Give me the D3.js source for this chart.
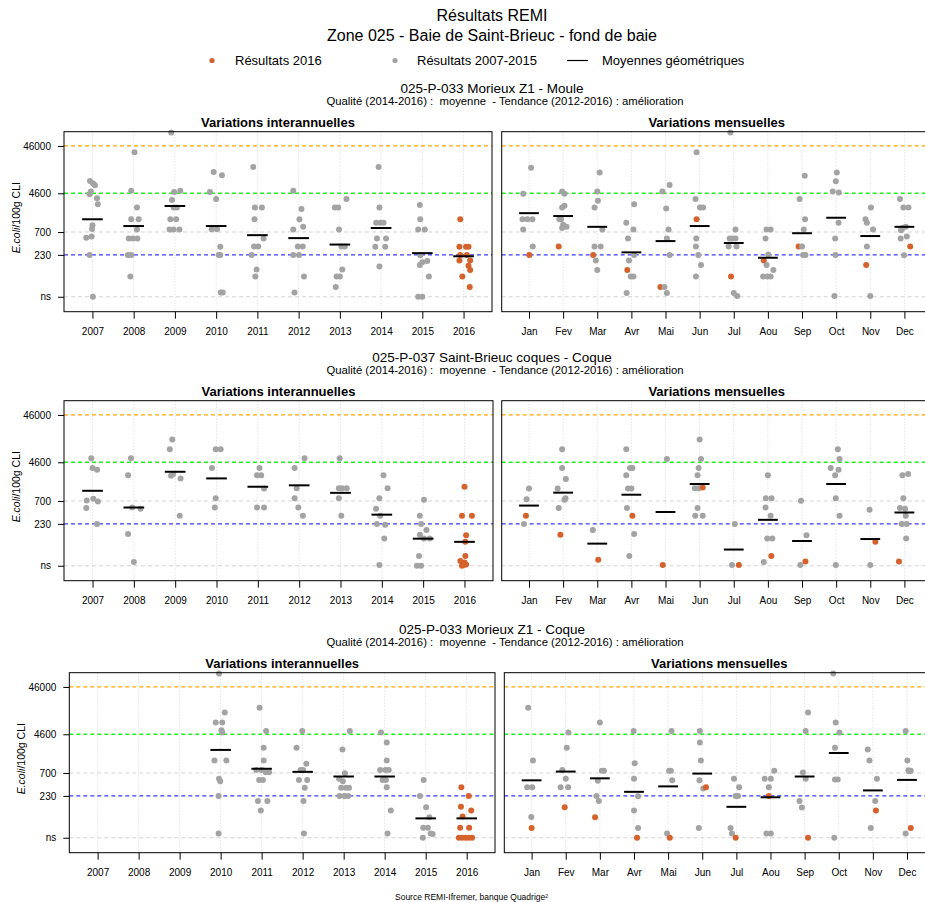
<!DOCTYPE html>
<html>
<head>
<meta charset="utf-8">
<script src="https://cdn.jsdelivr.net/npm/d3@7"></script>
<style>
  body { margin: 0; background: #fff; }
  svg { display: block; }
</style>
</head>
<body>
<script>
/* DATA */
const titres = ["Résultats REMI", "Zone 025 - Baie de Saint-Brieuc - fond de baie"];
const legendLabels = ["Résultats 2016", "Résultats 2007-2015", "Moyennes géométriques"];
const stations = ["025-P-033 Morieux Z1 - Moule", "025-P-037 Saint-Brieuc coques - Coque", "025-P-033 Morieux Z1 - Coque"];
const qualites = [
  "Qualité (2014-2016) :  moyenne  - Tendance (2012-2016) : amélioration",
  "Qualité (2014-2016) :  moyenne  - Tendance (2012-2016) : amélioration",
  "Qualité (2014-2016) :  moyenne  - Tendance (2012-2016) : amélioration"
];
const years = [2007, 2008, 2009, 2010, 2011, 2012, 2013, 2014, 2015, 2016];
const months = ["Jan", "Fev", "Mar", "Avr", "Mai", "Jun", "Jul", "Aou", "Sep", "Oct", "Nov", "Dec"];
const seuilValues = [46000, 4600, 700, 230, 30];
const seuilLabels = ["46000", "4600", "700", "230", "ns"];
const source = "Source REMI-Ifremer, banque Quadrige²";

// points: [year (jittered), E.coli]
const mouleAnnees = [
  [2006.94,8400],[2007.01,7500],[2007.06,6800],[2006.96,5000],[2006.93,4400],[2007.11,3600],[2007.13,2700],[2007.00,970],[2006.99,810],[2006.85,530],[2006.98,560],[2006.93,230],[2007.01,30],
  [2008.02,34000],[2007.94,5200],[2008.08,2300],[2007.94,1300],[2008.12,1300],[2008.08,790],[2007.88,510],[2007.98,510],[2008.09,510],[2007.86,230],[2007.94,230],[2007.92,80],
  [2008.91,88000],[2008.98,4900],[2009.13,5200],[2008.93,3300],[2008.97,2300],[2009.05,2300],[2008.89,1300],[2009.03,1300],[2008.87,790],[2008.97,790],[2009.11,790],
  [2009.94,12900],[2010.14,11000],[2009.85,4900],[2010.00,3500],[2009.89,800],[2010.02,800],[2010.10,340],[2010.06,230],[2010.10,230],[2010.11,37],[2010.16,37],
  [2010.90,16500],[2010.94,2300],[2011.11,2300],[2010.93,1300],[2011.15,510],[2010.92,345],[2011.02,345],[2010.86,230],[2010.98,113],[2010.95,80],
  [2011.87,5200],[2012.07,2150],[2012.02,1300],[2012.11,900],[2011.87,790],[2012.10,345],[2011.98,345],[2011.87,230],[2012.01,230],[2012.13,80],[2011.90,37],
  [2012.88,2300],[2012.96,2300],[2013.16,3500],[2012.98,790],[2013.04,345],[2013.12,345],[2013.06,113],[2012.92,80],[2013.00,80],[2012.90,48],
  [2013.94,16500],[2013.96,2300],[2013.88,1100],[2013.98,1100],[2014.06,1100],[2013.90,510],[2014.12,510],[2013.86,340],[2014.10,340],[2013.96,130],
  [2014.94,2600],[2014.95,1300],[2014.90,790],[2015.06,790],[2014.95,225],[2015.12,170],[2015.00,160],[2014.94,140],[2015.16,80],[2014.90,30],[2015.00,30],
  [2015.92,1300],[2015.90,340],[2016.06,340],[2016.12,340],[2015.92,230],[2016.08,230],[2015.90,175],[2016.16,175],[2016.12,135],[2016.16,110],[2015.97,80],[2016.15,48]
];
const mouleMoyAn = [1300, 935, 2480, 935, 600, 520, 380, 850, 250, 215];
// points: [month (jittered), E.coli, 1 = 2016]
const mouleMois = [
  [1.06,16000],[0.83,4500],[0.81,1300],[0.95,1300],[1.10,1300],[0.83,790],[1.11,345],[1.01,230,1],
  [1.97,5000],[2.04,4500],[2.04,2500],[1.97,2300],[1.89,1300],[1.94,1300],[2.00,1000],[2.10,900],[1.97,850],[1.87,345,1],
  [3.07,12700],[3.00,5000],[3.02,3200],[2.92,2300],[3.15,790],[2.92,345],[3.10,345],[2.88,230,1],[2.96,175],[3.00,110],
  [4.08,2700],[3.85,1100],[4.06,790],[3.90,510],[4.08,230],[3.93,175],[3.88,110,1],[3.98,80],[4.06,80],[3.86,36],
  [5.12,6900],[4.91,5000],[5.02,2200],[5.09,790],[5.04,510],[5.12,230],[4.85,48,1],[4.97,48],[5.04,36],
  [5.91,34000],[5.88,3500],[6.01,2300],[6.10,2300],[5.91,1300,1],[5.90,510],[5.89,345],[5.96,230],[6.04,140],[5.89,80],
  [6.90,88000],[7.05,790],[6.88,510],[6.95,510],[7.05,510],[7.08,345],[6.85,345],[6.92,80,1],[7.00,36],[7.10,31],
  [7.96,790],[8.08,790],[7.93,510],[8.01,235],[7.88,175,1],[7.96,140],[8.16,110],[7.86,80],[7.98,80],[8.08,80],
  [9.08,10800],[8.93,3500],[9.09,1300],[9.05,790],[8.90,345,1],[9.00,345],[9.03,230],[9.10,230],
  [10.02,12700],[9.99,8300],[9.90,5000],[10.08,4800],[10.07,1100],[9.97,510],[9.98,230],[9.95,31],
  [11.02,2300],[10.86,1300],[10.90,1100],[11.08,790],[10.90,345],[10.88,140,1],[11.00,31],
  [11.87,3500],[11.97,2300],[12.12,2300],[11.95,850],[12.04,900],[11.90,760],[11.89,510],[12.07,560],[12.17,345,1],[11.99,225]
];
const mouleMoyMois = [1750, 1520, 900, 260, 450, 935, 410, 200, 660, 1400, 575, 900];

const stbAnnees = [
  [2006.97,5600],[2007.00,3500],[2007.11,3200],[2006.86,720],[2007.02,780],[2007.13,680],[2006.85,500],[2007.11,230],
  [2007.93,5600],[2007.86,2450],[2007.96,510],[2008.16,480],[2007.86,140],[2008.00,36],
  [2008.93,14000],[2008.87,8700],[2008.95,2600],[2008.90,2400],[2009.13,2100],[2009.11,340],
  [2009.98,8700],[2010.10,8700],[2009.89,3500],[2009.98,800],[2009.96,510],
  [2011.04,3500],[2010.98,2450],[2011.08,2450],[2011.15,1280],[2010.98,510],[2011.15,510],
  [2011.89,3500],[2012.13,5600],[2011.94,1300],[2011.89,800],[2011.98,510],[2012.09,340],
  [2012.98,5600],[2012.96,1300],[2013.04,1300],[2013.15,1300],[2012.96,800],[2013.02,340],
  [2014.04,2450],[2014.14,1300],[2013.94,800],[2013.86,480],[2013.96,340],[2013.88,230],[2014.08,220],[2014.06,113],[2013.94,31],
  [2015.02,740],[2014.92,340],[2014.95,230],[2015.08,170],[2014.92,135],[2015.02,113],[2015.16,113],[2014.90,48],[2014.85,30],[2014.95,30],
  [2016.00,1400],[2015.94,340],[2016.18,340],[2016.04,133],[2016.02,96],[2016.02,48],[2015.90,38],[2016.00,35],[2016.04,32],[2015.94,30],[2015.98,31]
];
const stbMoyAn = [1150, 510, 2900, 2100, 1400, 1500, 1040, 360, 112, 96];
const stbMois = [
  [1.00,1290],[0.93,760],[0.91,340,1],[0.85,230],
  [1.97,8700],[1.97,3500],[2.08,2050],[1.84,1290],[2.07,800],[2.04,740],[1.87,500],[1.92,135,1],
  [2.87,170],[3.03,40,1],
  [3.85,8700],[4.03,3500],[3.96,3500],[3.85,2450],[3.90,1290],[4.00,1290],[3.87,500],[4.03,340,1],[4.08,140],[3.94,48],
  [5.04,5400],[4.92,31,1],
  [6.00,14000],[6.04,5400],[5.97,3500],[5.94,2450],[5.86,1300],[5.97,1300],[6.09,1350,1],[5.94,500],[5.87,340],[6.09,340],
  [7.03,230],[6.95,31],[7.15,31,1],
  [8.00,2450],[7.94,800],[8.11,800],[7.93,510],[8.08,340],[7.98,113],[8.13,113],[8.10,48,1],[7.88,36],
  [8.97,710],[9.13,133],[9.10,37,1],[8.95,31],
  [10.05,8700],[10.10,5400],[9.84,3500],[10.07,3200],[9.97,2450],[9.99,800],[10.10,340],[9.99,31],
  [10.98,460],[11.15,96,1],[11.00,31],
  [11.94,2450],[12.11,2600],[11.97,800],[11.87,500],[12.02,480],[12.04,340],[11.92,230],[12.07,230],[12.05,113],[11.84,37,1]
];
const stbMoyMois = [560, 1050, 88, 950, 410, 1600, 66, 280, 100, 1600, 110, 400];

const coqAnnees = [
  [2009.96,88000],[2010.10,13300],[2009.88,8200],[2010.04,8200],[2010.02,5600],[2010.04,5000],[2009.85,1290],[2010.14,1290],[2009.96,530],[2009.99,470],[2009.95,230],[2009.95,37],
  [2010.95,16700],[2011.11,5400],[2011.05,2400],[2011.05,1290],[2010.87,810],[2011.00,810],[2011.10,730],[2011.18,730],[2010.94,500],[2011.03,500],[2010.91,180],[2011.14,180],[2010.98,113],
  [2011.99,5400],[2011.85,2400],[2012.09,1100],[2011.95,810],[2012.01,810],[2011.91,500],[2012.11,500],[2012.05,340],[2012.02,180],[2012.03,37],
  [2013.15,5400],[2012.97,2200],[2013.03,690],[2012.89,530],[2012.98,470],[2012.94,340],[2013.06,340],[2013.13,340],[2012.90,230],[2013.02,230],[2013.11,230],
  [2013.91,5000],[2014.05,3100],[2014.05,1290],[2013.89,810],[2014.02,810],[2014.10,810],[2013.95,500],[2014.03,500],[2014.05,350],[2014.15,113],[2014.07,37],
  [2014.95,500],[2014.86,230],[2015.01,133],[2015.09,81],[2014.94,49],[2015.05,49],[2015.17,36],[2015.12,37],[2014.93,30],
  [2015.87,350],[2016.05,230],[2015.86,135],[2016.11,113],[2015.90,84],[2015.84,49],[2016.06,49],[2015.81,30],[2015.89,30],[2015.97,30],[2016.05,30],[2016.13,30]
];
const coqMoyAn = [null, null, null, 2150, 860, 740, 590, 590, 77, 77];
const coqMois = [
  [0.90,16700],[1.04,1290],[0.87,350],[1.02,350],[0.99,82],[1.00,48,1],
  [2.08,5000],[2.03,2400],[1.90,810],[2.00,530],[1.85,350],[2.07,350],[1.97,133,1],
  [3.00,8200],[3.06,780],[3.12,780],[2.94,480],[2.90,230],[2.97,180],[2.86,81,1],
  [3.99,5400],[4.02,1120],[4.00,530],[4.12,225],[4.00,113],[4.12,48],[4.09,30,1],
  [5.10,5400],[5.03,780],[5.08,780],[5.12,490],[4.97,37],[5.05,30,1],
  [5.93,5400],[5.93,3100],[5.96,1290],[5.92,490],[6.03,330],[6.11,350,1],[5.90,48],
  [6.93,530],[7.08,350],[6.98,230],[7.05,230],[6.83,48],[6.87,37],[6.98,30,1],
  [8.11,780],[7.83,530],[8.01,530],[7.95,350],[7.95,230,1],[7.88,37],[8.01,37],
  [9.10,13300],[9.03,5400],[8.95,720],[9.03,530],[8.85,180],[8.92,130],[9.10,30,1],
  [9.84,88000],[9.91,8200],[10.02,5000],[9.89,2400],[9.89,510],[9.97,510],[9.87,30],
  [10.85,2200],[10.90,1290],[11.12,530],[11.07,180],[11.09,113,1],[10.94,48],
  [11.96,5400],[12.01,1290],[12.04,800],[12.11,780],[12.06,760],[12.11,48,1],[11.96,37]
];
const coqMoyMois = [490, 750, 540, 280, 365, 680, 135, 215, 590, 1850, 300, 500];

/* LAYOUT */
const width = 925, height = 902;
const font = "'Liberation Sans', Arial, Helvetica, sans-serif";
const orange = "#D5622C", gris = "#A3A3A3";
const seuilColors = ["#FFA500", "#22EE22", "#D3D3D3", "#3A3AFF", "#D3D3D3"];
const panelH = 180;

const rows = [
  { top: 131.7, left: [64, 492], right: [501.7, 931.7], an: mouleAnnees, moyAn: mouleMoyAn, mois: mouleMois, moyMois: mouleMoyMois },
  { top: 400.7, left: [64, 493], right: [501.7, 931.7], an: stbAnnees, moyAn: stbMoyAn, mois: stbMois, moyMois: stbMoyMois },
  { top: 672.7, left: [69.3, 495], right: [504.3, 934.3], an: coqAnnees, moyAn: coqMoyAn, mois: coqMois, moyMois: coqMoyMois }
];

const svg = d3.select("body").append("svg")
  .attr("width", width)
  .attr("height", height)
  .style("font-family", font);

// titles
svg.append("text").attr("x", 492).attr("y", 21).attr("text-anchor", "middle")
  .attr("font-size", 16).text(titres[0]);
svg.append("text").attr("x", 492).attr("y", 41).attr("text-anchor", "middle")
  .attr("font-size", 16).text(titres[1]);

// legend
const leg = svg.append("g").attr("font-size", 13);
leg.append("circle").attr("cx", 212).attr("cy", 60.5).attr("r", 2.6).attr("fill", orange);
leg.append("text").attr("x", 235).attr("y", 65).text(legendLabels[0]);
leg.append("circle").attr("cx", 395).attr("cy", 60.5).attr("r", 2.6).attr("fill", gris);
leg.append("text").attr("x", 417).attr("y", 65).text(legendLabels[1]);
leg.append("line").attr("x1", 567).attr("x2", 588).attr("y1", 60.5).attr("y2", 60.5)
  .attr("stroke", "#000").attr("stroke-width", 1.2);
leg.append("text").attr("x", 602).attr("y", 65).text(legendLabels[2]);

rows.forEach((row, i) => {
  svg.append("text").attr("x", 492).attr("y", row.top - 38.5).attr("text-anchor", "middle")
    .attr("font-size", 13.5).text(stations[i]);
  svg.append("text").attr("x", 505).attr("y", row.top - 26.5).attr("text-anchor", "middle")
    .attr("font-size", 11.3).style("white-space", "pre")
    .text(qualites[i]);

  drawPanel(row, "an");
  drawPanel(row, "mois");
});

svg.append("text").attr("x", 395).attr("y", 899.5).attr("font-size", 8.5).text(source);

function drawPanel(row, kind) {
  const isAn = kind === "an";
  const [x0, x1] = isAn ? row.left : row.right;
  const top = row.top, bottom = row.top + panelH;
  const cats = isAn ? years : d3.range(1, 13);
  const labels = isAn ? years.map(String) : months;
  const pts = isAn ? row.an : row.mois;
  const moys = isAn ? row.moyAn : row.moyMois;
  const half = isAn ? 0.25 : 0.29;

  const x = d3.scaleLinear()
    .domain(isAn ? [2006.31, 2016.69] : [0.2, 12.8])
    .range([x0, x1]);
  const y = d3.scaleLog()
    .domain([14.5, 92000])
    .range([bottom, top]);

  const g = svg.append("g");

  // vertical grid
  g.selectAll(".vgrid").data(cats).join("line")
    .attr("x1", d => x(d)).attr("x2", d => x(d))
    .attr("y1", top).attr("y2", bottom)
    .attr("stroke", "#D8D8D8").attr("stroke-dasharray", "1,2");

  // thresholds
  g.selectAll(".seuil").data(seuilValues).join("line")
    .attr("x1", x0).attr("x2", x1)
    .attr("y1", d => y(d)).attr("y2", d => y(d))
    .attr("stroke", (d, j) => seuilColors[j])
    .attr("stroke-width", (d, j) => j === 1 ? 1.6 : 1.2)
    .attr("stroke-dasharray", "4,3");

  // points
  g.selectAll(".pt").data(pts).join("circle")
    .attr("cx", d => x(d[0]))
    .attr("cy", d => y(d[1]))
    .attr("r", 3)
    .attr("fill", d => (isAn ? Math.round(d[0]) === 2016 : d[2] === 1) ? orange : gris);

  // geometric means
  const m = cats.map((c, j) => [c, moys[j]]).filter(d => d[1] != null);
  g.selectAll(".moy").data(m).join("line")
    .attr("x1", d => x(d[0] - half)).attr("x2", d => x(d[0] + half))
    .attr("y1", d => y(d[1])).attr("y2", d => y(d[1]))
    .attr("stroke", "#000").attr("stroke-width", 2);

  // frame
  g.append("rect")
    .attr("x", x0).attr("y", top)
    .attr("width", x1 - x0).attr("height", panelH)
    .attr("fill", "none").attr("stroke", "#000").attr("stroke-width", 1);

  // x axis
  const xAxis = d3.axisBottom(x)
    .tickValues(cats)
    .tickFormat((d, j) => labels[j])
    .tickSize(7)
    .tickSizeOuter(0)
    .tickPadding(9);
  g.append("g")
    .attr("transform", `translate(0,${bottom})`)
    .call(xAxis)
    .call(a => a.select(".domain").remove())
    .attr("font-family", font)
    .attr("font-size", 10);

  // y axis on left panels
  if (isAn) {
    const yAxis = d3.axisLeft(y)
      .tickValues(seuilValues)
      .tickFormat((d, j) => seuilLabels[j])
      .tickSize(6)
      .tickPadding(7);
    g.append("g")
      .attr("transform", `translate(${x0},0)`)
      .call(yAxis)
      .call(a => a.select(".domain").remove())
      .attr("font-family", font)
      .attr("font-size", 10);

    const t = g.append("text")
      .attr("transform", `translate(${x0 - 44},${top + 86}) rotate(-90)`)
      .attr("text-anchor", "middle")
      .attr("font-size", 10.5);
    t.append("tspan").attr("font-style", "italic").text("E.coli");
    t.append("tspan").text("/100g CLI");
  }

  // panel title
  svg.append("text")
    .attr("x", (x0 + x1) / 2).attr("y", top - 4.5)
    .attr("text-anchor", "middle")
    .attr("font-size", 13).attr("font-weight", "bold")
    .text(isAn ? "Variations interannuelles" : "Variations mensuelles");
}
</script>
</body>
</html>
